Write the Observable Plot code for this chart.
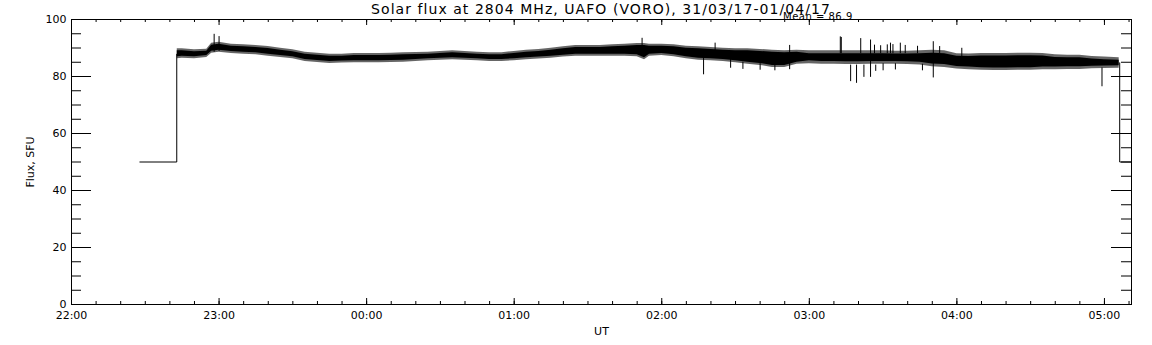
<!DOCTYPE html>
<html><head><meta charset="utf-8">
<script src="https://cdn.jsdelivr.net/npm/d3@7"></script>
<script src="https://cdn.jsdelivr.net/npm/@observablehq/plot@0.6"></script>
<style>
body{margin:0;background:#fff;}
#wrap{position:relative;width:1152px;height:345px;font-family:"DejaVu Sans",sans-serif;color:#000;background:#fff;}
#wrap svg{position:absolute;left:0;top:0;z-index:0;}
#title{position:absolute;z-index:2;left:71px;width:1060px;top:1.5px;text-align:center;font-size:14px;line-height:14px;letter-spacing:1.05px;white-space:nowrap;}
#mean{position:absolute;z-index:3;left:783px;top:11.5px;font-size:10px;line-height:10px;letter-spacing:0.5px;white-space:nowrap;}
</style></head><body><div id="wrap"><div id="title">Solar flux at 2804 MHz, UAFO (VORO), 31/03/17-01/04/17</div><div id="mean">Mean = 86.9</div></div>
<script>
// ---- data ----
const bandTime = ["22:43","22:45","22:50","22:55","22:57","23:00","23:05","23:10","23:15","23:20","23:25","23:30","23:35","23:40","23:45","23:50","23:55",
"00:00","00:05","00:10","00:15","00:20","00:25","00:30","00:35","00:40","00:45","00:50","00:55",
"01:00","01:05","01:10","01:15","01:20","01:25","01:30","01:35","01:40","01:45","01:50","01:53","01:55",
"02:00","02:05","02:10","02:15","02:20","02:25","02:30","02:35","02:40","02:45","02:50","02:55",
"03:00","03:05","03:10","03:15","03:20","03:25","03:30","03:35","03:40","03:45","03:50","03:55",
"04:00","04:05","04:10","04:15","04:20","04:25","04:30","04:35","04:40","04:45","04:50","04:55","05:00","05:06"];
// outer (noisy fringe) envelope
const bandHigh = [89.7,89.7,89.4,89.6,91.7,92.0,91.3,91.1,90.9,90.5,89.9,89.4,88.5,88.2,87.8,87.8,88.1,
88.1,88.1,88.2,88.3,88.4,88.5,88.8,89.0,88.8,88.5,88.3,88.3,
88.8,89.2,89.5,89.9,90.4,90.9,90.9,90.9,91.1,91.3,91.6,91.6,91.3,
91.3,91.1,90.6,90.4,90.2,89.9,89.7,89.7,89.5,89.2,89.0,89.2,
89.0,89.0,89.0,89.0,89.0,89.0,89.0,88.9,88.9,89.0,89.2,89.0,
88.0,87.9,88.1,88.1,88.1,88.2,88.2,88.1,87.6,87.5,87.5,87.0,86.8,86.6];
const bandLow = [86.2,86.4,86.2,86.7,88.2,88.5,88.1,87.8,87.6,87.1,86.7,86.2,85.3,84.9,84.6,84.7,84.8,
84.8,84.8,84.9,85.0,85.3,85.5,85.7,85.9,85.7,85.5,85.3,85.3,
85.5,85.9,86.1,86.4,86.8,87.1,87.1,87.1,87.1,87.1,86.9,85.9,87.1,
87.4,86.9,86.2,85.7,85.5,85.3,84.8,84.3,83.9,83.2,83.2,84.3,
84.5,84.3,84.3,84.2,84.2,84.3,84.3,84.3,84.2,84.0,83.4,83.2,
82.6,82.4,82.2,82.1,82.1,82.2,82.2,82.4,82.4,82.5,82.5,82.7,82.8,82.9];
// dense core of the trace
const coreHigh = [89.0,89.0,88.7,88.9,91.0,91.3,90.6,90.4,90.2,89.8,89.2,88.7,87.8,87.5,87.1,87.1,87.4,
87.4,87.4,87.5,87.6,87.7,87.8,88.1,88.3,88.1,87.8,87.6,87.6,
88.1,88.5,88.8,89.2,89.7,90.2,90.2,90.2,90.4,90.6,90.9,90.9,90.6,
90.6,90.4,89.9,89.7,89.5,89.2,89.0,89.0,88.8,88.5,88.3,88.5,
88.0,88.0,88.0,88.0,88.0,88.0,88.0,87.9,87.9,88.0,88.2,88.0,
87.1,87.0,87.2,87.2,87.2,87.3,87.3,87.2,86.7,86.6,86.6,86.1,85.9,85.7];
const coreLow = [86.9,87.1,86.9,87.4,88.9,89.2,88.8,88.5,88.3,87.8,87.4,86.9,86.0,85.6,85.3,85.4,85.5,
85.5,85.5,85.6,85.7,86.0,86.2,86.4,86.6,86.4,86.2,86.0,86.0,
86.2,86.6,86.8,87.1,87.5,87.8,87.8,87.8,87.8,87.8,87.6,86.6,87.8,
88.1,87.6,86.9,86.4,86.2,86.0,85.5,85.0,84.6,83.9,83.9,85.0,
85.5,85.3,85.3,85.2,85.2,85.3,85.3,85.3,85.2,85.0,84.4,84.2,
83.5,83.3,83.1,83.0,83.0,83.1,83.1,83.3,83.3,83.4,83.4,83.6,83.7,83.8];

// isolated spikes (time, lower end, upper end)
const spikeTime = ["22:58","23:00","01:52","02:17","02:21:42","02:28","02:33","02:40","02:46","02:52",
"03:12:36","03:13","03:16:48","03:19:12","03:20:54","03:22:12","03:24:54","03:26:30","03:27","03:29","03:30",
"03:31:42","03:33","03:34","03:35","03:37","03:39","03:44","03:46","03:50:24","03:53","04:02","04:59"];
const spikeLow  = [88.5,88.8,87.0,80.6,88.0,82.9,82.5,82.2,82.0,82.4,
88.0,88.0,78.2,77.6,88.0,79.7,79.7,88.0,81.8,88.0,82.0,
88.0,88.0,88.0,82.3,88.0,88.0,88.0,82.0,79.5,88.0,86.0,76.4];
const spikeHigh = [94.8,94.0,93.4,87.0,91.7,86.0,85.0,84.5,84.0,90.9,
93.9,93.7,84.0,84.0,93.3,84.0,92.8,91.0,84.0,90.8,84.5,
91.1,91.7,91.2,84.5,91.7,90.9,90.6,84.3,92.2,90.5,89.9,83.0];

const stepStartTime = ["22:27:48","22:42:48","22:42:48"];
const stepStartFlux = [50,50,87.8];
const stepEndTime = ["05:06:12","05:06:12","05:11"];
const stepEndFlux = [84.8,50,50];

const xTickLabels = ["22:00","23:00","00:00","01:00","02:00","03:00","04:00","05:00"];
const yTickValues = [0,20,40,60,80,100];
const xDomain = ["22:00","05:11"];

// ---- helpers ----
const T = s => { const [h,m,sec=0] = s.split(":").map(Number); return new Date(Date.UTC(2017,2,h>=12?31:32,h,m,sec)); };
const band = bandTime.map((t,i)=>({t:T(t), lo:bandLow[i], hi:bandHigh[i], clo:coreLow[i], chi:coreHigh[i]}));
const spikes = spikeTime.map((t,i)=>({t:T(t), lo:spikeLow[i], hi:spikeHigh[i]}));
const startStep = stepStartTime.map((t,i)=>({t:T(t), v:stepStartFlux[i]}));
const endStep = stepEndTime.map((t,i)=>({t:T(t), v:stepEndFlux[i]}));
const xMajor = xTickLabels.map(T);
const xMinor = d3.utcMinute.every(10).range(T(xDomain[0]), T(xDomain[1]));
const yMinor = d3.range(0,101,5);

const W=1152,H=345,mL=71,mR=21,mT=19,mB=41;
const FW=W-mL-mR, FH=H-mT-mB;

const chart = Plot.plot({
  width:W, height:H, marginLeft:mL, marginRight:mR, marginTop:mT, marginBottom:mB,
  style:{fontFamily:'"DejaVu Sans",sans-serif', fontSize:"11px", color:"#000", background:"transparent"},
  x:{type:"utc", domain:xDomain.map(T)},
  y:{domain:[0,100]},
  marks:[
    Plot.areaY(band,{x:"t", y1:"lo", y2:"hi", fill:"#000", fillOpacity:0.6}),
    Plot.areaY(band,{x:"t", y1:"clo", y2:"chi", fill:"#000"}),
    Plot.ruleX(spikes,{x:"t", y1:"lo", y2:"hi", stroke:"#000", strokeWidth:1}),
    Plot.line(startStep,{x:"t", y:"v", stroke:"#000", strokeWidth:1}),
    Plot.line(endStep,{x:"t", y:"v", stroke:"#000", strokeWidth:1}),
    // ticks drawn inward (IDL style)
    Plot.ruleX(xMinor,{x:d=>d, insetTop:FH-3, stroke:"#000"}),
    Plot.ruleX(xMinor,{x:d=>d, insetBottom:FH-3, stroke:"#000"}),
    Plot.ruleX(xMajor,{x:d=>d, insetTop:FH-6, stroke:"#000"}),
    Plot.ruleX(xMajor,{x:d=>d, insetBottom:FH-6, stroke:"#000"}),
    Plot.ruleY(yMinor,{y:d=>d, insetRight:FW-10, stroke:"#000"}),
    Plot.ruleY(yMinor,{y:d=>d, insetLeft:FW-10, stroke:"#000"}),
    Plot.ruleY(yTickValues,{y:d=>d, insetRight:FW-20, stroke:"#000"}),
    Plot.ruleY(yTickValues,{y:d=>d, insetLeft:FW-20, stroke:"#000"}),
    Plot.axisX({anchor:"bottom", ticks:xMajor, tickFormat:d3.utcFormat("%H:%M"), tickSize:0, tickPadding:7,
      label:"UT", labelAnchor:"center", labelArrow:"none", labelOffset:30}),
    Plot.axisY({anchor:"left", ticks:yTickValues, tickSize:0, tickPadding:5,
      label:"Flux, SFU", labelAnchor:"center", labelArrow:"none", labelOffset:45}),
    Plot.frame({stroke:"#000"})
  ]
});
document.getElementById("wrap").prepend(chart);
</script>
</body></html>
